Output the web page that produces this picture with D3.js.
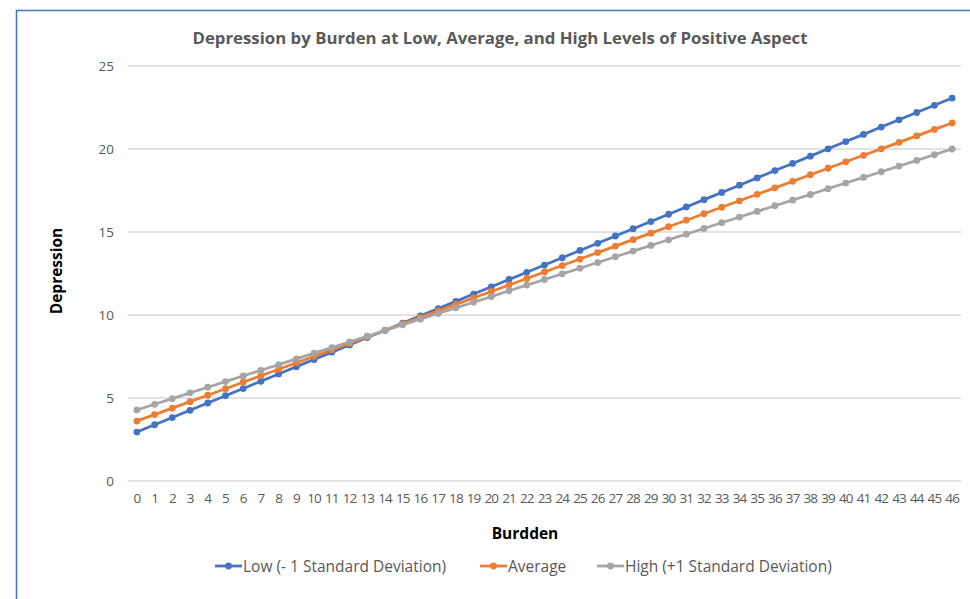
<!DOCTYPE html>
<html><head><meta charset="utf-8">
<script src="https://cdn.jsdelivr.net/npm/d3@7"></script>
<style>html,body{margin:0;padding:0;background:#fff;}svg{display:block;}</style>
</head><body>
<svg id="chart" width="970" height="599"></svg>
<script>
const categories = d3.range(0, 47).map(String);
const lowValues = [2.95,3.39,3.82,4.26,4.70,5.14,5.57,6.01,6.45,6.89,7.32,7.76,8.20,8.64,9.07,9.51,9.95,10.39,10.82,11.26,11.70,12.14,12.57,13.01,13.45,13.89,14.32,14.76,15.20,15.63,16.07,16.51,16.95,17.38,17.82,18.26,18.70,19.13,19.57,20.01,20.45,20.88,21.32,21.76,22.20,22.63,23.07];
const averageValues = [3.61,4.00,4.39,4.78,5.17,5.56,5.95,6.34,6.73,7.12,7.51,7.90,8.29,8.69,9.08,9.47,9.86,10.25,10.64,11.03,11.42,11.81,12.20,12.59,12.98,13.37,13.76,14.15,14.54,14.93,15.32,15.71,16.10,16.49,16.88,17.27,17.66,18.05,18.45,18.84,19.23,19.62,20.01,20.40,20.79,21.18,21.57];
const highValues = [4.28,4.62,4.96,5.31,5.65,5.99,6.33,6.67,7.01,7.36,7.70,8.04,8.38,8.72,9.06,9.41,9.75,10.09,10.43,10.77,11.11,11.46,11.80,12.14,12.48,12.82,13.16,13.51,13.85,14.19,14.53,14.87,15.21,15.56,15.90,16.24,16.58,16.92,17.26,17.61,17.95,18.29,18.63,18.97,19.31,19.66,20.00];
const yTicks = [0, 5, 10, 15, 20, 25];
const seriesNames = ["Low (- 1 Standard Deviation)", "Average", "High (+1 Standard Deviation)"];
const seriesColors = ["#4472C4", "#ED7D31", "#A5A5A5"];
const titleText = "Depression by Burden at Low, Average, and High Levels of Positive Aspect";
const xTitle = "Burdden";
const yTitle = "Depression";

const series = [lowValues, averageValues, highValues].map((v, i) => ({name: seriesNames[i], color: seriesColors[i], values: v}));

const svg = d3.select("#chart");
const font = "'Open Sans', 'Liberation Sans', sans-serif";

// frame border
svg.append("path").attr("d", "M16.5,599 L16.5,10.5 L970,10.5").attr("fill", "none").attr("stroke", "#4472C4").attr("stroke-width", 1.5);

const plotLeft = 128, plotRight = 961, plotTop = 66, plotBottom = 481;
const x = d3.scaleBand().domain(categories).range([plotLeft, plotRight]);
const y = d3.scaleLinear().domain([0, 25]).range([plotBottom, plotTop]);
const cx = c => x(c) + x.bandwidth() / 2;

// gridlines
svg.append("g").selectAll("line").data(yTicks).join("line")
  .attr("x1", plotLeft).attr("x2", plotRight)
  .attr("y1", d => y(d)).attr("y2", d => y(d))
  .attr("stroke", "#D9D9D9").attr("stroke-width", 1.3);

// y axis labels
const yAxis = d3.axisLeft(y).tickValues(yTicks).tickSize(0).tickPadding(0);
const yg = svg.append("g").attr("transform", `translate(114,0)`).call(yAxis);
yg.select(".domain").remove();
yg.selectAll("text").attr("font-family", font).attr("font-size", 13.5).attr("fill", "#595959");

// x axis labels
const xAxis = d3.axisBottom(x).tickSize(0).tickPadding(0);
const xg = svg.append("g").attr("transform", `translate(0,493)`).call(xAxis);
xg.select(".domain").remove();
xg.selectAll("text").attr("font-family", font).attr("font-size", 13.5).attr("fill", "#595959").attr("letter-spacing", -0.9);

// lines
const line = d3.line().x((d, i) => cx(categories[i])).y(d => y(d));
series.forEach(s => {
  svg.append("path").datum(s.values).attr("d", line)
    .attr("fill", "none").attr("stroke", s.color).attr("stroke-width", 2.75).attr("stroke-linejoin", "round");
  svg.append("g").selectAll("circle").data(s.values).join("circle")
    .attr("cx", (d, i) => cx(categories[i])).attr("cy", d => y(d)).attr("r", 3.4)
    .attr("fill", s.color);
});

// title
svg.append("text").attr("x", 500).attr("y", 44).attr("text-anchor", "middle")
  .attr("font-family", font).attr("font-weight", "bold").attr("font-size", 16.5).attr("fill", "#595959")
  .attr("textLength", 615).attr("lengthAdjust", "spacingAndGlyphs").text(titleText);

// axis titles
svg.append("text").attr("x", 525).attr("y", 539).attr("text-anchor", "middle")
  .attr("font-family", font).attr("font-weight", "bold").attr("font-size", 15.5).attr("fill", "#000").text(xTitle);
svg.append("text").attr("transform", "translate(62,271) rotate(-90)").attr("text-anchor", "middle")
  .attr("font-family", font).attr("font-weight", "bold").attr("font-size", 15.5).attr("fill", "#000").text(yTitle);

// legend
const legendX = [215, 480, 597];
const lg = svg.append("g");
series.forEach((s, i) => {
  const g = lg.append("g").attr("transform", `translate(${legendX[i]},566)`);
  g.append("line").attr("x1", 0).attr("x2", 27).attr("y1", 0).attr("y2", 0).attr("stroke", s.color).attr("stroke-width", 2.75);
  g.append("circle").attr("cx", 13.5).attr("cy", 0).attr("r", 3.4).attr("fill", s.color);
  g.append("text").attr("x", 28).attr("y", 5.5).attr("font-family", font).attr("font-size", 15.5).attr("fill", "#595959").text(s.name);
});
</script>
</body></html>
